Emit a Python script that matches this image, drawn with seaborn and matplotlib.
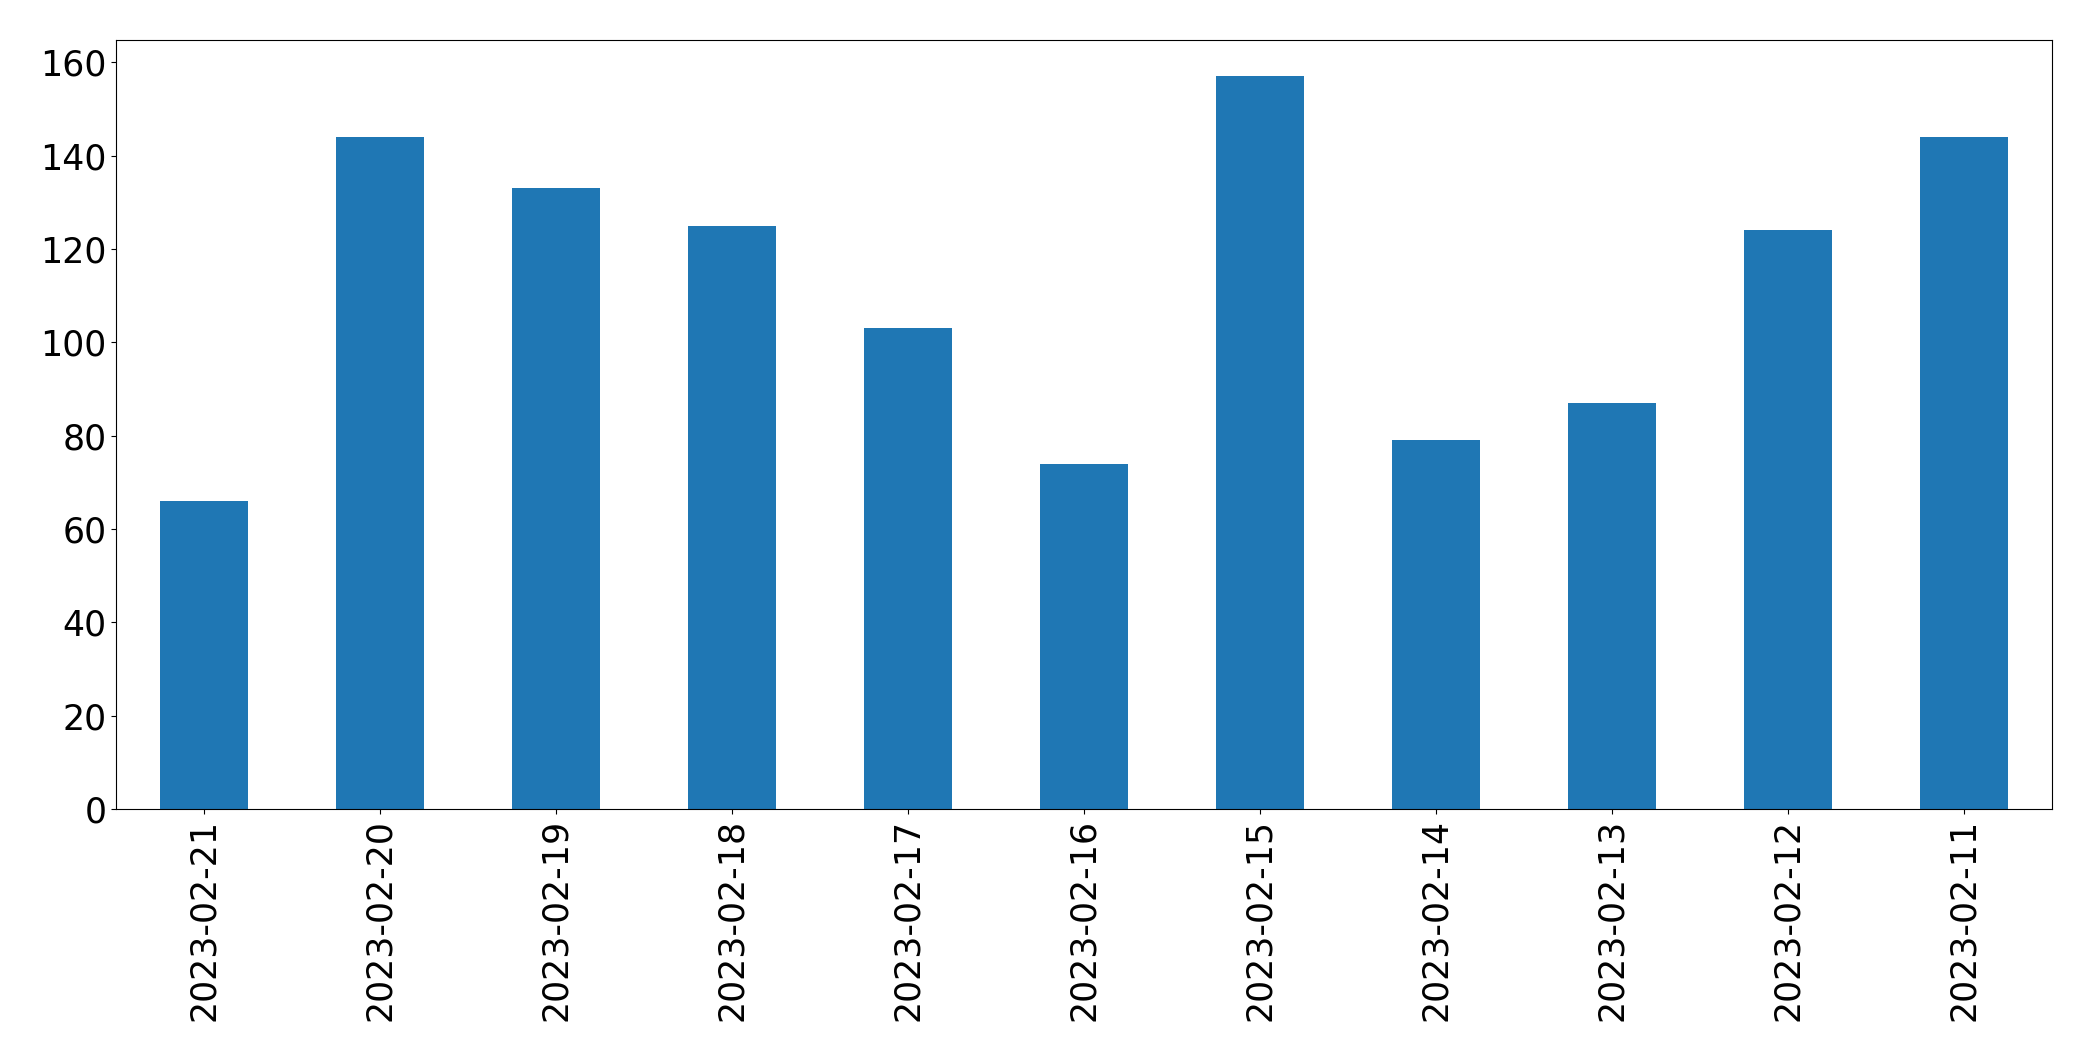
import matplotlib
matplotlib.use("Agg")
import matplotlib.pyplot as plt
import seaborn as sns
import pandas as pd

dates = ["2023-02-21", "2023-02-20", "2023-02-19", "2023-02-18", "2023-02-17",
         "2023-02-16", "2023-02-15", "2023-02-14", "2023-02-13", "2023-02-12",
         "2023-02-11"]
counts = [66, 144, 133, 125, 103, 74, 157, 79, 87, 124, 144]

df = pd.DataFrame({"date": dates, "count": counts})

fig = plt.figure(figsize=(20.93, 10.61), dpi=100)
ax = fig.add_axes([116/2093, 1-809/1061, (2052-116)/2093, (809-39.7)/1061])
sns.barplot(data=df, x="date", y="count", order=dates, color="#1f77b4",
            saturation=1, width=0.5, linewidth=0, ax=ax)
ax.set_xlim(-0.5, len(dates) - 0.5)
ax.set_ylim(0, 164.85)
ax.set_yticks(range(0, 161, 20))
ax.set_xlabel("")
ax.set_ylabel("")
for s in ax.spines.values():
    s.set_color("black")
ax.tick_params(axis="both", labelsize=25, colors="black")
ax.tick_params(axis="x", labelrotation=90)
fig.savefig("out.png", dpi=100)
